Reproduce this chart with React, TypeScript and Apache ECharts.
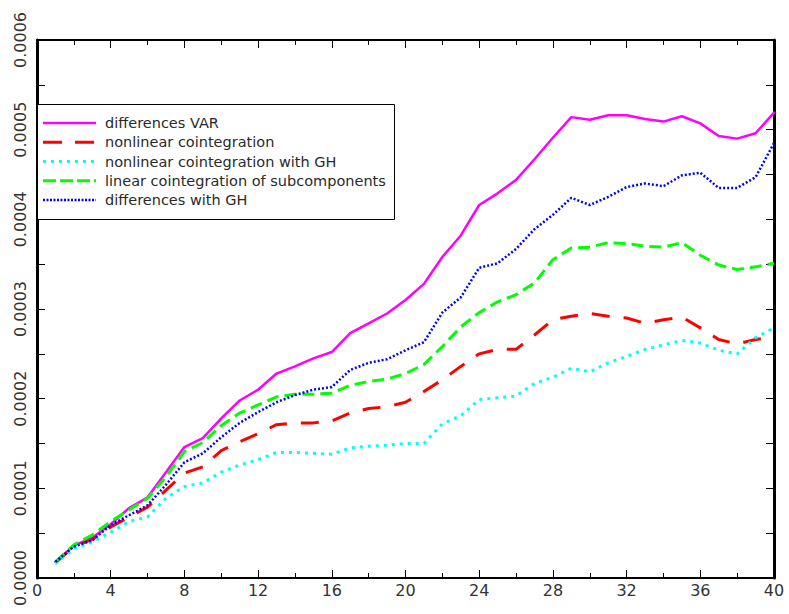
import React, { useEffect, useRef } from "react";
import * as echarts from "echarts";

// values in units of 1e-4
const SCALE = 1e-4;
const horizons = [1,2,3,4,5,6,7,8,9,10,11,12,13,14,15,16,17,18,19,20,21,22,23,24,25,26,27,28,29,30,31,32,33,34,35,36,37,38,39,40];

const differencesVAR = [0.18,0.36,0.45,0.60,0.78,0.90,1.18,1.46,1.56,1.78,1.98,2.10,2.28,2.36,2.45,2.52,2.73,2.84,2.95,3.10,3.28,3.58,3.82,4.16,4.29,4.44,4.67,4.91,5.14,5.11,5.16,5.16,5.12,5.09,5.15,5.07,4.93,4.90,4.96,5.19];
const nonlinearCoint = [0.17,0.35,0.43,0.57,0.68,0.79,0.98,1.17,1.24,1.42,1.52,1.61,1.71,1.73,1.73,1.75,1.84,1.89,1.91,1.96,2.08,2.21,2.36,2.50,2.55,2.55,2.71,2.88,2.92,2.95,2.92,2.90,2.84,2.88,2.91,2.79,2.66,2.61,2.66,2.69];
const nonlinearCointGH = [0.16,0.33,0.40,0.51,0.63,0.68,0.89,1.02,1.06,1.18,1.26,1.32,1.40,1.40,1.39,1.38,1.45,1.47,1.48,1.50,1.50,1.72,1.81,1.99,2.01,2.03,2.17,2.24,2.34,2.30,2.40,2.47,2.55,2.60,2.65,2.62,2.54,2.50,2.68,2.79];
const linearCointSub = [0.18,0.37,0.48,0.63,0.76,0.89,1.13,1.41,1.51,1.70,1.84,1.93,2.02,2.05,2.05,2.06,2.15,2.19,2.22,2.28,2.38,2.58,2.80,2.96,3.08,3.16,3.29,3.55,3.68,3.69,3.74,3.73,3.70,3.69,3.74,3.60,3.49,3.44,3.47,3.51];
const differencesGH = [0.18,0.35,0.42,0.59,0.70,0.81,1.04,1.29,1.39,1.57,1.73,1.85,1.96,2.04,2.10,2.13,2.32,2.40,2.44,2.54,2.63,2.96,3.13,3.46,3.51,3.67,3.89,4.05,4.24,4.16,4.25,4.36,4.40,4.37,4.49,4.52,4.35,4.35,4.47,4.85];

const seriesNames = [
  "differences VAR",
  "nonlinear cointegration",
  "nonlinear cointegration with GH",
  "linear cointegration of subcomponents",
  "differences with GH",
];
const seriesColors = ["#ff00ff", "#ff0000", "#00ffff", "#00ff00", "#0000ff"];
const seriesDash: (number[] | null)[] = [null, [18, 14], [3, 5], [12, 6], [2, 2]];
const seriesWidth = [2.5, 3, 3, 3, 2.5];
const legendDash: (number[] | null)[] = [null, [19, 13], [3, 5], [13, 4], [2, 1.5]];

const FONT = "DejaVu Sans";

export default function App() {
  const ref = useRef<HTMLDivElement>(null);
  useEffect(() => {
    if (!ref.current) return;
    const chart = echarts.init(ref.current, undefined, { renderer: "svg" });
    const toData = (arr: number[]) => arr.map((v, i) => [horizons[i], v * SCALE]);
    const xTick = {
      axisLine: { show: true, onZero: false, lineStyle: { color: "#000", width: 2 } },
      axisTick: { show: true, inside: true, length: 8, lineStyle: { color: "#000", width: 1 } },
      minorTick: { show: true, splitNumber: 2, length: 5, lineStyle: { color: "#000", width: 1 } },
      splitLine: { show: false },
      minorSplitLine: { show: false },
    };
    const yTick = {
      axisLine: { show: true, onZero: false, lineStyle: { color: "#000", width: 3 } },
      axisTick: { show: true, inside: true, length: 8, lineStyle: { color: "#000", width: 1 } },
      minorTick: { show: true, splitNumber: 2, length: 8, lineStyle: { color: "#000", width: 1 } },
      splitLine: { show: false },
      minorSplitLine: { show: false },
    };
    const allData = [differencesVAR, nonlinearCoint, nonlinearCointGH, linearCointSub, differencesGH];
    const series = allData.map((arr, i) => ({
      name: seriesNames[i],
      type: "line",
      data: toData(arr),
      symbol: "none",
      showSymbol: false,
      lineStyle: {
        color: seriesColors[i],
        type: seriesDash[i] ?? "solid",
        width: seriesWidth[i],
        cap: i === 0 ? "round" : "butt",
      },
      z: 3,
    }));

    const legendTop = 104;
    const legendGraphics: any[] = [
      {
        type: "rect",
        z: 5,
        shape: { x: 37.5, y: legendTop + 0.5, width: 357, height: 115 },
        style: { fill: "#fff", stroke: "#000", lineWidth: 1 },
      },
    ];
    seriesNames.forEach((name, i) => {
      const cy = 123 + i * 19.25;
      legendGraphics.push({
        type: "line",
        z: 6,
        shape: { x1: 43, y1: cy, x2: 96, y2: cy },
        style: {
          stroke: seriesColors[i],
          lineWidth: seriesWidth[i],
          lineDash: legendDash[i] ?? undefined,
        },
      });
      legendGraphics.push({
        type: "text",
        z: 6,
        x: 105,
        y: cy,
        style: {
          text: name,
          fontFamily: FONT,
          fontSize: 14.5,
          fill: "#2a2a2a",
          verticalAlign: "middle",
          align: "left",
        },
      });
    });

    chart.setOption({
      animation: false,
      backgroundColor: "#fff",
      grid: { left: 37, right: 15, top: 40, bottom: 36, containLabel: false },
      xAxis: [
        {
          type: "value", min: 0, max: 40, interval: 4, position: "bottom",
          ...xTick,
          axisLabel: { show: true, fontFamily: FONT, fontSize: 16, color: "#333", margin: 4 },
        },
        {
          type: "value", min: 0, max: 40, interval: 4, position: "top",
          ...xTick,
          axisLabel: { show: false },
        },
      ],
      yAxis: [
        {
          type: "value", min: 0, max: 0.0006, interval: 0.0001, position: "left",
          ...yTick,
          axisLabel: {
            show: true, rotate: 90, fontFamily: FONT, fontSize: 16, color: "#333", margin: 9,
            formatter: (v: number) => v.toFixed(4),
          },
        },
        {
          type: "value", min: 0, max: 0.0006, interval: 0.0001, position: "right",
          ...yTick,
          axisLabel: { show: false },
        },
      ],
      graphic: legendGraphics,
      series,
    });
    return () => chart.dispose();
  }, []);
  return (
    <div
      ref={ref}
      style={{ position: "fixed", left: 0, top: 0, width: 789, height: 614, background: "#fff" }}
    />
  );
}
